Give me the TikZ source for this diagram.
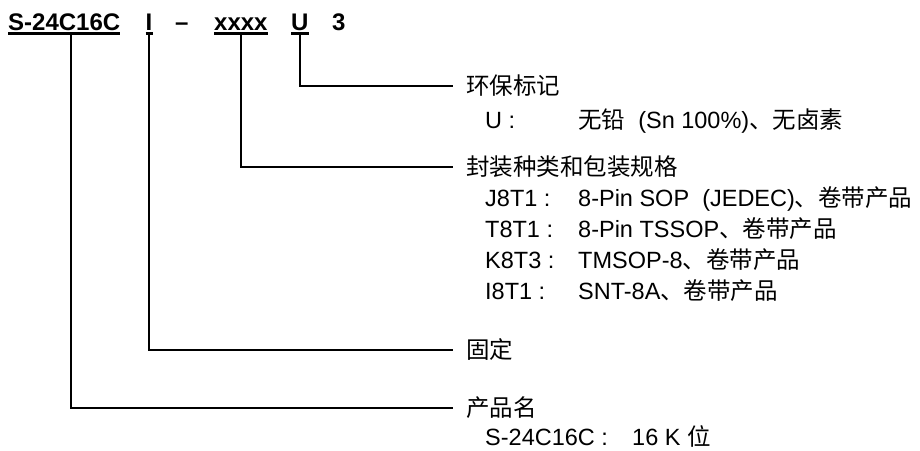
\documentclass[tikz,border=0pt]{standalone}
\usepackage{fontspec}
\setmainfont{Liberation Sans}
\newfontfamily\cjk{Noto Sans CJK SC}
\begin{document}
\begin{tikzpicture}[x=1pt,y=-1pt,
  hdr/.style={anchor=base west,inner sep=0pt,font=\fontsize{24}{28}\selectfont\bfseries},
  lbl/.style={anchor=base west,inner sep=0pt,font=\fontsize{23.5}{28}\selectfont},
  conn/.style={line width=1.5pt,black},
  ul/.style={line width=2.5pt,black}]
\useasboundingbox (0,0) rectangle (920,450);
% header
\node[hdr] (hS) at (8,30) {S-24C16C};
\node[hdr] (hI) at (145.5,30) {I};
\node[hdr] (hD) at (175,30) {–};
\node[hdr] (hX) at (214,30) {xxxx};
\node[hdr] (hU) at (291,30) {U};
\node[hdr] (h3) at (332,30) {3};
\foreach \n in {hS,hI,hX,hU}
  \draw[ul] ([shift={(0,3.5)}]\n.base west) -- ([shift={(0,3.5)}]\n.base east);
\coordinate (sS) at ([shift={(63,3.5)}]hS.base west);
% labels
\node[lbl] (lEnv) at (466,94) {\cjk 环保标记};
\node[lbl] (kU) at (485,128) {U :};
\node[lbl] (vU) at (578,128) {{\cjk 无铅}\ \ (Sn 100\%){\cjk 、无卤素}};
\node[lbl] (lPkg) at (466,175) {\cjk 封装种类和包装规格};
\node[lbl] (k1) at (485,206) {J8T1 :};
\node[lbl] (v1) at (578,206) {8-Pin SOP\ \ (JEDEC){\cjk 、卷带产品}};
\node[lbl] (k2) at (485,237) {T8T1 :};
\node[lbl] (v2) at (578,237) {8-Pin TSSOP{\cjk 、卷带产品}};
\node[lbl] (k3) at (485,268) {K8T3 :};
\node[lbl] (v3) at (578,268) {TMSOP-8{\cjk 、卷带产品}};
\node[lbl] (k4) at (485,299) {I8T1 :};
\node[lbl] (v4) at (578,299) {SNT-8A{\cjk 、卷带产品}};
\node[lbl] (lFix) at (466,358) {\cjk 固定};
\node[lbl] (lName) at (466,416) {\cjk 产品名};
\node[lbl] (kS) at (485,445) {S-24C16C :};
\node[lbl] (vS) at (632,445) {16 K {\cjk 位}};
% connectors
\draw[conn] ([shift={(0,3.5)}]hU.base) |- ([shift={(-13,-8)}]lEnv.base west);
\draw[conn] ([shift={(0,3.5)}]hX.base) |- ([shift={(-13,-8)}]lPkg.base west);
\draw[conn] ([shift={(0,3.5)}]hI.base) |- ([shift={(-13,-8)}]lFix.base west);
\draw[conn] (sS) |- ([shift={(-13,-8)}]lName.base west);
\end{tikzpicture}
\end{document}
